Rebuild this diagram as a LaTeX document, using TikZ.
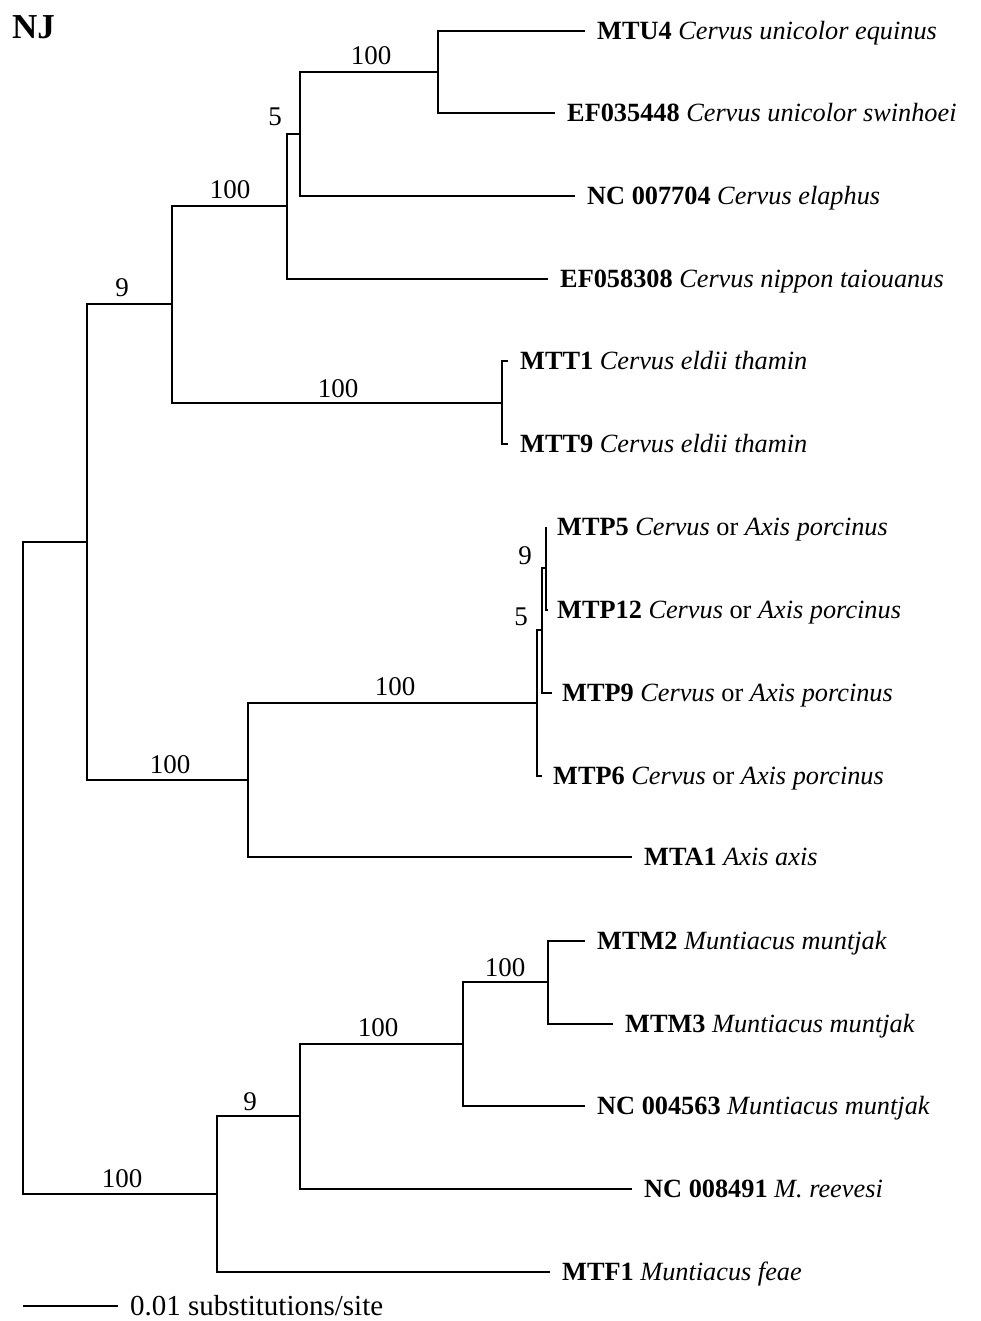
\documentclass[tikz,border=0pt]{standalone}
\usepackage{fontspec}
\setmainfont{Liberation Serif}
\begin{document}
\begin{tikzpicture}[x=1pt,y=-1pt,
  br/.style={line width=2pt},
  leaf/.style={anchor=base west,inner sep=0pt,xshift=12pt,yshift=-8.6pt,font=\fontsize{26.3}{30}\selectfont},
  blab/.style={anchor=base,inner sep=0pt,font=\fontsize{27}{30}\selectfont}]
\useasboundingbox (0,0) rectangle (980,1321);
\node[anchor=base west,inner sep=0pt,font=\fontsize{35}{40}\selectfont\bfseries] (nj) at (12,39) {NJ};
% tips
\coordinate (tMTU4) at (585,31);
\coordinate (tEF035448) at (555,113);
\coordinate (tNC007704) at (575,196);
\coordinate (tEF058308) at (548,279);
\coordinate (tMTT1) at (508,361);
\coordinate (tMTT9) at (508,444);
\coordinate (tMTP5) at (546,527);
\coordinate (tMTP12) at (548,610);
\coordinate (tMTP9) at (552,693);
\coordinate (tMTP6) at (542,776);
\coordinate (tMTA1) at (632,857);
\coordinate (tMTM2) at (585,941);
\coordinate (tMTM3) at (613,1024);
\coordinate (tNC004563) at (585,1106);
\coordinate (tNC008491) at (632,1189);
\coordinate (tMTF1) at (550,1272);
% internal nodes
\coordinate (nA) at (438,72);
\coordinate (nB) at (300,134);
\coordinate (nC) at (287,206);
\coordinate (nT) at (502,403);
\coordinate (nD) at (172,304);
\coordinate (nP1) at (546,568);
\coordinate (nP2) at (542,630);
\coordinate (nP3) at (537,703);
\coordinate (nF) at (248,780);
\coordinate (nE) at (87,542);
\coordinate (nM) at (548,982);
\coordinate (nG) at (463,1044);
\coordinate (nH) at (300,1116);
\coordinate (nI) at (217,1194);
\coordinate (root) at (23,868);
% branches
\draw[br] (nA) |- (tMTU4);
\draw[br] (nA) |- (tEF035448);
\draw[br] (nB) |- (nA);
\draw[br] (nB) |- (tNC007704);
\draw[br] (nC) |- (nB);
\draw[br] (nC) |- (tEF058308);
\draw[br] (nT) |- (tMTT1);
\draw[br] (nT) |- (tMTT9);
\draw[br] (nD) |- (nC);
\draw[br] (nD) |- (nT);
\draw[br] (nP1) |- (tMTP5);
\draw[br] (nP1) |- (tMTP12);
\draw[br] (nP2) |- (nP1);
\draw[br] (nP2) |- (tMTP9);
\draw[br] (nP3) |- (nP2);
\draw[br] (nP3) |- (tMTP6);
\draw[br] (nF) |- (nP3);
\draw[br] (nF) |- (tMTA1);
\draw[br] (nE) |- (nD);
\draw[br] (nE) |- (nF);
\draw[br] (nM) |- (tMTM2);
\draw[br] (nM) |- (tMTM3);
\draw[br] (nG) |- (nM);
\draw[br] (nG) |- (tNC004563);
\draw[br] (nH) |- (nG);
\draw[br] (nH) |- (tNC008491);
\draw[br] (nI) |- (nH);
\draw[br] (nI) |- (tMTF1);
\draw[br] (root) |- (nE);
\draw[br] (root) |- (nI);
% leaf labels
\node[leaf] (lMTU4) at (tMTU4) {\textbf{MTU4} \textit{Cervus unicolor equinus}};
\node[leaf] (lEF035448) at (tEF035448) {\textbf{EF035448} \textit{Cervus unicolor swinhoei}};
\node[leaf] (lNC007704) at (tNC007704) {\textbf{NC 007704} \textit{Cervus elaphus}};
\node[leaf] (lEF058308) at (tEF058308) {\textbf{EF058308} \textit{Cervus nippon taiouanus}};
\node[leaf] (lMTT1) at (tMTT1) {\textbf{MTT1} \textit{Cervus eldii thamin}};
\node[leaf] (lMTT9) at (tMTT9) {\textbf{MTT9} \textit{Cervus eldii thamin}};
\node[leaf,xshift=-1pt] (lMTP5) at (tMTP5) {\textbf{MTP5} \textit{Cervus} or \textit{Axis porcinus}};
\node[leaf,xshift=-3pt] (lMTP12) at (tMTP12) {\textbf{MTP12} \textit{Cervus} or \textit{Axis porcinus}};
\node[leaf,xshift=-2pt] (lMTP9) at (tMTP9) {\textbf{MTP9} \textit{Cervus} or \textit{Axis porcinus}};
\node[leaf,xshift=-1pt] (lMTP6) at (tMTP6) {\textbf{MTP6} \textit{Cervus} or \textit{Axis porcinus}};
\node[leaf] (lMTA1) at (tMTA1) {\textbf{MTA1} \textit{Axis axis}};
\node[leaf] (lMTM2) at (tMTM2) {\textbf{MTM2} \textit{Muntiacus muntjak}};
\node[leaf] (lMTM3) at (tMTM3) {\textbf{MTM3} \textit{Muntiacus muntjak}};
\node[leaf] (lNC004563) at (tNC004563) {\textbf{NC 004563} \textit{Muntiacus muntjak}};
\node[leaf] (lNC008491) at (tNC008491) {\textbf{NC 008491} \textit{M. reevesi}};
\node[leaf] (lMTF1) at (tMTF1) {\textbf{MTF1} \textit{Muntiacus feae}};
% bootstrap labels
\node[blab] (bA) at (371,65) {100};
\node[blab] (bB) at (275,126) {5};
\node[blab] (bC) at (230,199) {100};
\node[blab] (bT) at (338,397) {100};
\node[blab] (bD) at (122,297) {9};
\node[blab] (bP1) at (525,564) {9};
\node[blab] (bP2) at (521,625) {5};
\node[blab] (bP3) at (395,695) {100};
\node[blab] (bF) at (170,773) {100};
\node[blab] (bM) at (505,976) {100};
\node[blab] (bG) at (378,1036) {100};
\node[blab] (bH) at (250,1110) {9};
\node[blab] (bI) at (122,1187) {100};
% scale bar
\coordinate (s1) at (23,1306);
\coordinate (s2) at (118,1306);
\draw[line width=1.8pt] (s1) -- (s2);
\node[anchor=base west,inner sep=0pt,font=\fontsize{29}{32}\selectfont] (scale) at (130,1315) {0.01 substitutions/site};
\end{tikzpicture}
\end{document}
